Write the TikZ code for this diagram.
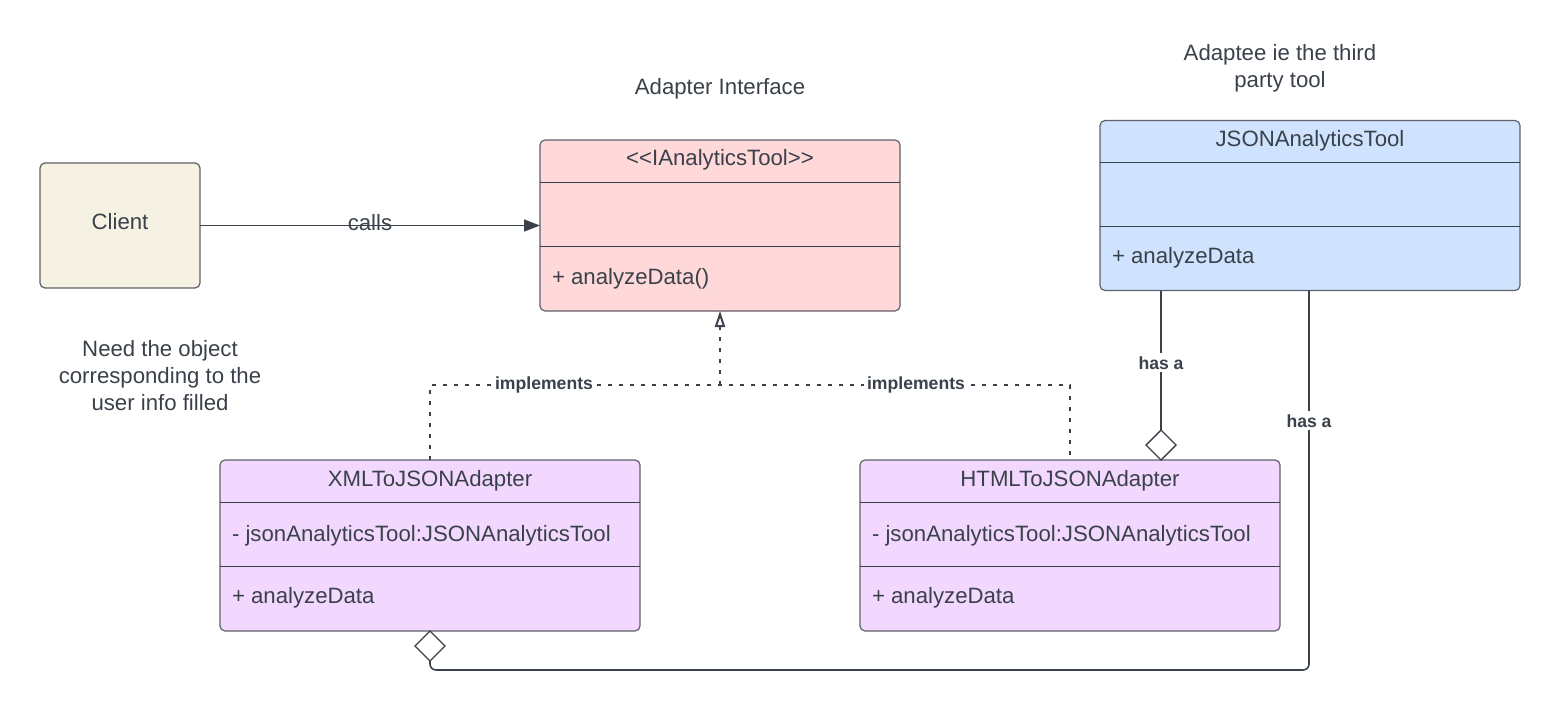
\documentclass[tikz,border=0pt]{standalone}
\usepackage{fontspec}
\setmainfont{Liberation Sans}
\usetikzlibrary{arrows.meta,shapes.geometric}
\definecolor{ink}{HTML}{3A414A}
\definecolor{edge}{HTML}{5E6168}
\definecolor{beigefill}{HTML}{F5F2E3}
\definecolor{pinkfill}{HTML}{FFD8D9}
\definecolor{bluefill}{HTML}{CFE3FE}
\definecolor{lilacfill}{HTML}{F2D8FE}
\tikzset{
  box/.style={draw=edge, line width=0.6pt, rounded corners=2.5pt, outer sep=0pt, inner sep=0pt},
  sep/.style={draw=ink, line width=0.5pt},
  txt/.style={text=ink, inner sep=0pt, outer sep=0pt, font=\fontsize{11.1pt}{13.3pt}\selectfont},
  lbl/.style={text=ink, fill=white, inner sep=1.5pt, font=\fontsize{8.8pt}{10pt}\selectfont\bfseries},
  conn/.style={draw=ink, line width=0.8pt},
  impl/.style={draw=ink, line width=1pt, dash pattern=on 2pt off 3.5pt},
  diam/.style={diamond, draw=ink, line width=0.7pt, fill=white, minimum width=15pt, minimum height=15pt, inner sep=0pt, outer sep=0pt}
}
\begin{document}
\begin{tikzpicture}[x=0.5pt,y=-0.5pt]
\useasboundingbox (0,0) rectangle (1560,712);
% Client
\node[box, fill=beigefill, minimum width=80pt, minimum height=62.5pt] (client) at (120,225.5) {};
\node[txt, anchor=base] (clienttxt) at (120,229) {Client};
\node[txt, anchor=base, align=center] (note) at (160,410) {Need the object\\corresponding to the\\user info filled};
% Interface
\node[txt, anchor=base] (ifacecap) at (720,94) {Adapter Interface};
\node[box, fill=pinkfill, minimum width=180pt, minimum height=85.5pt] (iface) at (720,225.5) {};
\draw[sep] (540,182) -- (900,182);
\draw[sep] (540,246) -- (900,246);
\node[txt, anchor=base] (ifacetitle) at (720,165) {<\kern0pt<IAnalyticsTool>\kern0pt>};
\node[txt, anchor=base west] (ifaceop) at (552,284) {+ analyzeData()};
% Adaptee
\node[txt, anchor=base, align=center] (adapteecap) at (1280,87) {Adaptee ie the third\\party tool};
\node[box, fill=bluefill, minimum width=210pt, minimum height=85pt] (json) at (1310,205.5) {};
\draw[sep] (1100,162) -- (1520,162);
\draw[sep] (1100,226.5) -- (1520,226.5);
\node[txt, anchor=base] (jsontitle) at (1310,146) {JSONAnalyticsTool};
\node[txt, anchor=base west] (jsonop) at (1112,263) {+ analyzeData};
% XML adapter
\node[box, fill=lilacfill, minimum width=210pt, minimum height=85.5pt] (xml) at (430,545.5) {};
\draw[sep] (220,502) -- (640,502);
\draw[sep] (220,566.5) -- (640,566.5);
\node[txt, anchor=base] (xmltitle) at (430,486.5) {XMLToJSONAdapter};
\node[txt, anchor=base west] (xmlattr) at (232,541.5) {- jsonAnalyticsTool:JSONAnalyticsTool};
\node[txt, anchor=base west] (xmlop) at (232,603) {+ analyzeData};
% HTML adapter
\node[box, fill=lilacfill, minimum width=210pt, minimum height=85.5pt] (html) at (1070,545.5) {};
\draw[sep] (860,502) -- (1280,502);
\draw[sep] (860,566.5) -- (1280,566.5);
\node[txt, anchor=base] (htmltitle) at (1070,486.5) {HTMLToJSONAdapter};
\node[txt, anchor=base west] (htmlattr) at (872,541.5) {- jsonAnalyticsTool:JSONAnalyticsTool};
\node[txt, anchor=base west] (htmlop) at (872,603) {+ analyzeData};
% calls
\draw[conn, -{Triangle[length=8pt,width=6pt]}] (client.east) -- node[txt, midway, yshift=1.6pt] (callslbl) {calls} (iface.west);
% implements
\coordinate (jn) at (720,385);
\draw[impl] (xml.north) |- (jn) -| (html.north);
\draw[impl, -{Triangle[open, length=8pt, width=5pt, line width=1pt]}] (jn) -- (iface.south);
\node[lbl, anchor=base] (impl1) at (544,389) {implements};
\node[lbl, anchor=base] (impl2) at (916,389) {implements};
% has a (1)
\node[diam, anchor=south] (d1) at (1161,460) {};
\draw[conn] (json.south -| d1.north) -- (d1.north);
\node[lbl, anchor=base] (has1) at (1161,369) {has a};
% has a (2)
\node[diam, anchor=north] (d2) at (xml.south) {};
\coordinate (c2) at (1309,670);
\draw[conn, rounded corners=3pt] (json.south -| c2) -- (c2) -| (d2.south);
\node[lbl, anchor=base] (has2) at (1309,427) {has a};
\end{tikzpicture}
\end{document}
